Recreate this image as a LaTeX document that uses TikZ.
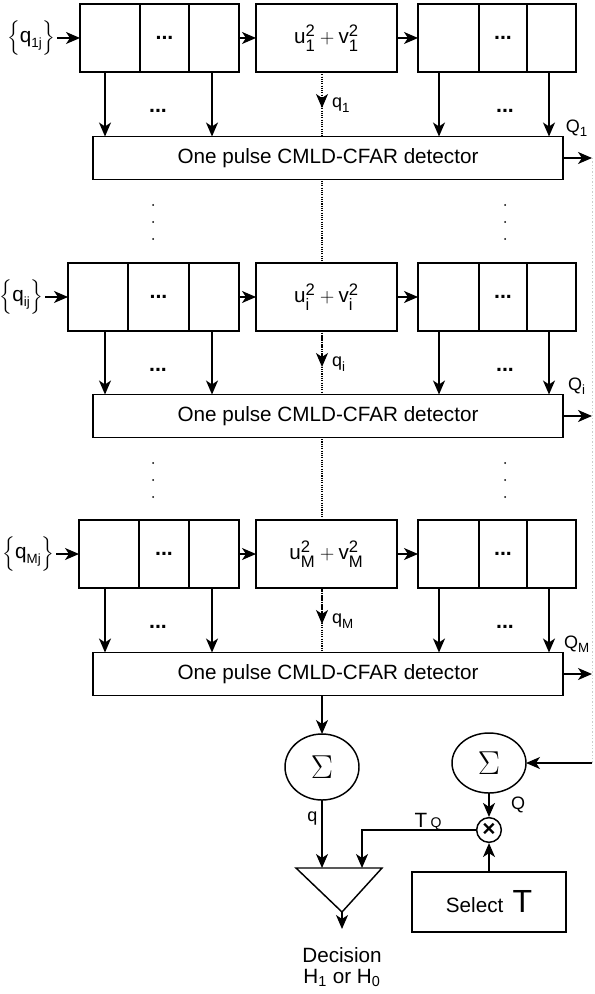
\documentclass[tikz,border=0pt]{standalone}
\usepackage{fontspec}
\setmainfont{Liberation Sans}
\usepackage{amsmath}
\usetikzlibrary{arrows.meta, shapes, positioning, backgrounds}
\newcommand{\bigscr}[1]{\text{\fontsize{12.5pt}{13pt}\selectfont #1}}
\newcommand{\midscr}[1]{\text{\fontsize{10pt}{11pt}\selectfont #1}}

\begin{document}
\begin{tikzpicture}[x=0.75pt,y=-0.75pt,>={Stealth[length=10.5pt,width=9pt,inset=3pt]},line width=1.1pt,
	font=\fontsize{15.5pt}{18pt}\selectfont,
	cell node/.style={draw,fill=white,minimum height=51pt,inner sep=0pt,outer sep=0pt},
	det node/.style={draw,fill=white,minimum width=352.5pt,minimum height=32.25pt,inner sep=0pt,outer sep=0pt},
	sum node/.style={ellipse,draw,fill=white,minimum width=55.5pt,inner sep=0pt,outer sep=0pt,font=\fontsize{24pt}{26pt}\selectfont},
	small label/.style={font=\fontsize{13.5pt}{14pt}\selectfont,inner sep=1pt},
	dots node/.style={font=\bfseries\fontsize{16pt}{18pt}\selectfont,inner sep=0pt},
	dot line/.style={line width=0.9pt,dash pattern=on 0.8pt off 0.9pt}]
	
	\useasboundingbox (0,0) rectangle (594,994);
	
	% Las tres filas de celdas y detectores
	\foreach \r/\s/\yb/\yd/\lx in {1/1/38/158/80, 2/i/297/416/68, 3/M/554/674/79}{
		\node[cell node,anchor=west,minimum width=45pt] (a\r) at (\lx,\yb) {};
		\node[cell node,right=0pt of a\r,minimum width={(129-\lx)*0.75pt}] (b\r) {};
		\node[cell node,right=0pt of b\r,minimum width=37.5pt] (c\r) {};
		\node[cell node,minimum width=105.75pt] (m\r) at (326.5,\yb) {$\text{u}_{\bigscr{\s}}^{\bigscr{2}} + \text{v}_{\bigscr{\s}}^{\bigscr{2}}$};
		\node[cell node,anchor=west,minimum width=45.75pt] (d\r) at (418,\yb) {};
		\node[cell node,right=0pt of d\r,minimum width=36pt] (e\r) {};
		\node[cell node,right=0pt of e\r,minimum width=36.75pt] (f\r) {};
		\node[det node] (det\r) at (328,\yd) {One pulse CMLD-CFAR detector};
		\node[left=17pt of a\r,inner sep=1pt] (in\r) {$\Big\{\text{q}_{\midscr{\s j}}\Big\}$};
		\node[dots node] at (b\r) {...};
		\node[dots node] at (e\r) {...};
		\node[dots node] (dl\r) at (158,\yb+73) {...};
		\node[dots node] (dr\r) at (505,\yb+73) {...};
		\coordinate (tip\r) at (322,\yb+70);
		\coordinate (out\r) at (592,\yd);
		\node[small label,right=6pt of tip\r,yshift=2pt] (ql\r) {$\text{q}_{\midscr{\s}}$};
		\node[small label] (Ql\r) at (577,\yd-30) {$\text{Q}_{\midscr{\s}}$};
		
		% Conexiones de la fila
		\path[->]
		(in\r) edge (a\r)
		(c\r) edge (m\r)
		(m\r) edge (d\r)
		(a\r.south -| 105,0) edge (det\r.north -| 105,0)
		(c\r.south -| 212,0) edge (det\r.north -| 212,0)
		(d\r.south -| 439,0) edge (det\r.north -| 439,0)
		(f\r.south -| 549,0) edge (det\r.north -| 549,0)
		(det\r) edge (out\r);
		\draw[dot line,->] (m\r.south -| tip\r) -- (tip\r);
		
		% Puntos verticales entre filas
		\ifnum\r<3
		\foreach \k in {47,64,81}{
			\fill (153,\yd+\k) circle (1);
			\fill (505,\yd+\k) circle (1);
		}
		\fi
	}
	
	\begin{scope}[on background layer]
		\draw[dot line] (m1.south -| tip1) -- (det3.north -| tip1);
	\end{scope}
	
	% Parte de decision
	\node[sum node,minimum height=49.5pt] (sum1) at (322,767) {$\Sigma$};
	\node[sum node,minimum height=45pt] (sum2) at (489,763) {$\Sigma$};
	\node[circle,draw,fill=white,minimum size=18.5pt,inner sep=0pt,font=\bfseries\fontsize{17pt}{17pt}\selectfont] (mult) at (489,830) {×};
	\node[draw,minimum width=115.5pt,minimum height=45pt] (sel) at (489,902) {Select\, {\fontsize{24pt}{26pt}\selectfont T}};
	\node[align=center,anchor=north,inner sep=1pt,font=\fontsize{15.5pt}{16pt}\selectfont] (dec) at (342,945) {Decision\\H\textsubscript{1} or H\textsubscript{0}};
	\node[anchor=base] (tq) at (428,827) {T\,{\fontsize{10.5pt}{12pt}\selectfont Q}};
	\node[small label] (qs) at (518,805) {Q};
	
	\coordinate (triA) at (296,868);
	\coordinate (triB) at (382,868);
	\coordinate (triC) at (342,912);
	\coordinate (tin) at (362,868);
	\coordinate (feed) at (592,763);
	\draw (triA) -- (triB) -- (triC) -- cycle;
	
	\draw[gray!40,line width=0.6pt,dash pattern=on 1pt off 1.5pt] (out1) -- (feed);
	\path[->]
	(det3.south -| sum1) edge (sum1.north)
	(sum1.south) edge node[small label,pos=0.27,left=2pt] {q} (sum1.south |- triA)
	(sum2) edge (mult)
	(sel) edge (mult)
	(feed) edge (sum2)
	(triC) edge[shorten >=12pt] (dec.north);
	\draw[->] (mult.west) -| (tin);
\end{tikzpicture}
\end{document}
